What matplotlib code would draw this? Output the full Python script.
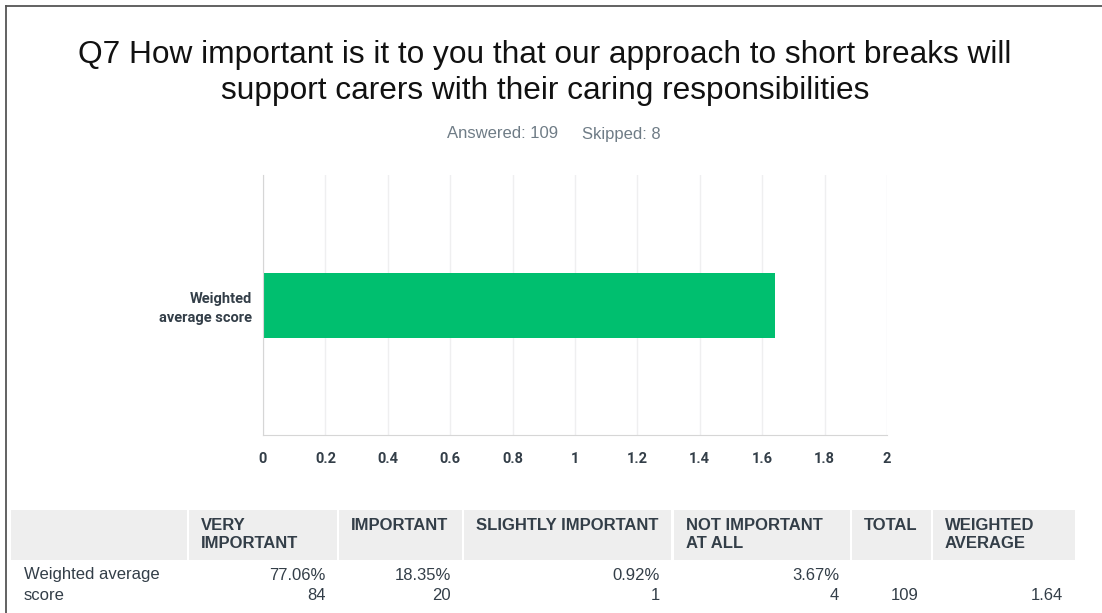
import matplotlib.pyplot as plt
from matplotlib.patches import Rectangle
from matplotlib.lines import Line2D

# data
question = "Q7 How important is it to you that our approach to short breaks will\nsupport carers with their caring responsibilities"
answered = 109
skipped = 8
row_label = "Weighted\naverage score"
weighted_avg = 1.64
columns = ["VERY\nIMPORTANT", "IMPORTANT", "SLIGHTLY IMPORTANT", "NOT IMPORTANT\nAT ALL", "TOTAL", "WEIGHTED\nAVERAGE"]
percents = ["77.06%", "18.35%", "0.92%", "3.67%"]
counts = [84, 20, 1, 4]
total = 109
xticks = [0, 0.2, 0.4, 0.6, 0.8, 1, 1.2, 1.4, 1.6, 1.8, 2]
xtick_labels = ["0", "0.2", "0.4", "0.6", "0.8", "1", "1.2", "1.4", "1.6", "1.8", "2"]

W, H = 1102, 613
fig = plt.figure(figsize=(W / 100, H / 100), dpi=100)
plt.rcParams['font.family'] = ['Liberation Sans', 'DejaVu Sans']

def px(x, y):
    return x / W, 1 - y / H

# frame lines top and left
fig.add_artist(Line2D([6 / W, 1], [1 - 6 / H, 1 - 6 / H], color='#555555', lw=1.3, transform=fig.transFigure))
fig.add_artist(Line2D([6 / W, 6 / W], [0, 1 - 6 / H], color='#555555', lw=1.3, transform=fig.transFigure))

# title
fig.text(*px(545, 73), question, ha='center', va='center', fontsize=22.8, color='#111111', linespacing=1.3)
fig.text(*px(447, 134), f"Answered: {answered}", ha='left', va='center', fontsize=12, color='#6f7c86')
fig.text(*px(582, 134), f"Skipped: {skipped}", ha='left', va='center', fontsize=12, color='#6f7c86')

# bar chart
ax = fig.add_axes([263 / W, 1 - 435 / H, (887 - 263) / W, (435 - 175) / H])
ax.barh([0], [weighted_avg], height=0.5, color='#00bf6f')
ax.set_xlim(0, 2)
ax.set_ylim(-1, 1)
ax.set_xticks(xticks)
ax.set_xticklabels(xtick_labels, fontfamily='Roboto', fontweight='bold', fontsize=10.5, color='#333e48')
ax.set_yticks([0])
ax.set_yticklabels([row_label], fontfamily='Roboto', fontweight='bold', fontsize=10.5, color='#333e48', linespacing=1.45)
ax.tick_params(axis='x', length=0, pad=12)
ax.tick_params(axis='y', length=0, pad=8)
ax.grid(axis='x', color='#efeff0', lw=1)
ax.set_axisbelow(True)
for s in ['top', 'right']:
    ax.spines[s].set_visible(False)
ax.spines['left'].set_color('#d6d6d6')
ax.spines['bottom'].set_color('#d6d6d6')

# table
cells = [(11, 187), (189, 337), (339, 462), (464, 671), (674, 850), (852, 931), (933, 1075)]
top, bottom = 510, 560
for x0, x1 in cells:
    fig.add_artist(Rectangle(px(x0, bottom), (x1 - x0) / W, (bottom - top) / H,
                             transform=fig.transFigure, color='#eeeeee', lw=0))
for (x0, x1), name in zip(cells[1:], columns):
    fig.text(*px(x0 + 12, 518), name, ha='left', va='top', fontsize=12, fontweight='bold',
             color='#333e48', linespacing=1.25)

fig.text(*px(24, 575), "Weighted average", ha='left', va='center', fontsize=12, color='#333e48')
fig.text(*px(24, 595), "score", ha='left', va='center', fontsize=12, color='#333e48')
for (x0, x1), p, c in zip(cells[1:5], percents, counts):
    fig.text(*px(x1 - 11, 575), p, ha='right', va='center', fontsize=12, color='#333e48')
    fig.text(*px(x1 - 11, 595), str(c), ha='right', va='center', fontsize=12, color='#333e48')
fig.text(*px(cells[5][1] - 12, 595), str(total), ha='right', va='center', fontsize=12, color='#333e48')
fig.text(*px(cells[6][1] - 12, 595), f"{weighted_avg:.2f}", ha='right', va='center', fontsize=12, color='#333e48')

fig.savefig('out.png', dpi=100, facecolor='white')
